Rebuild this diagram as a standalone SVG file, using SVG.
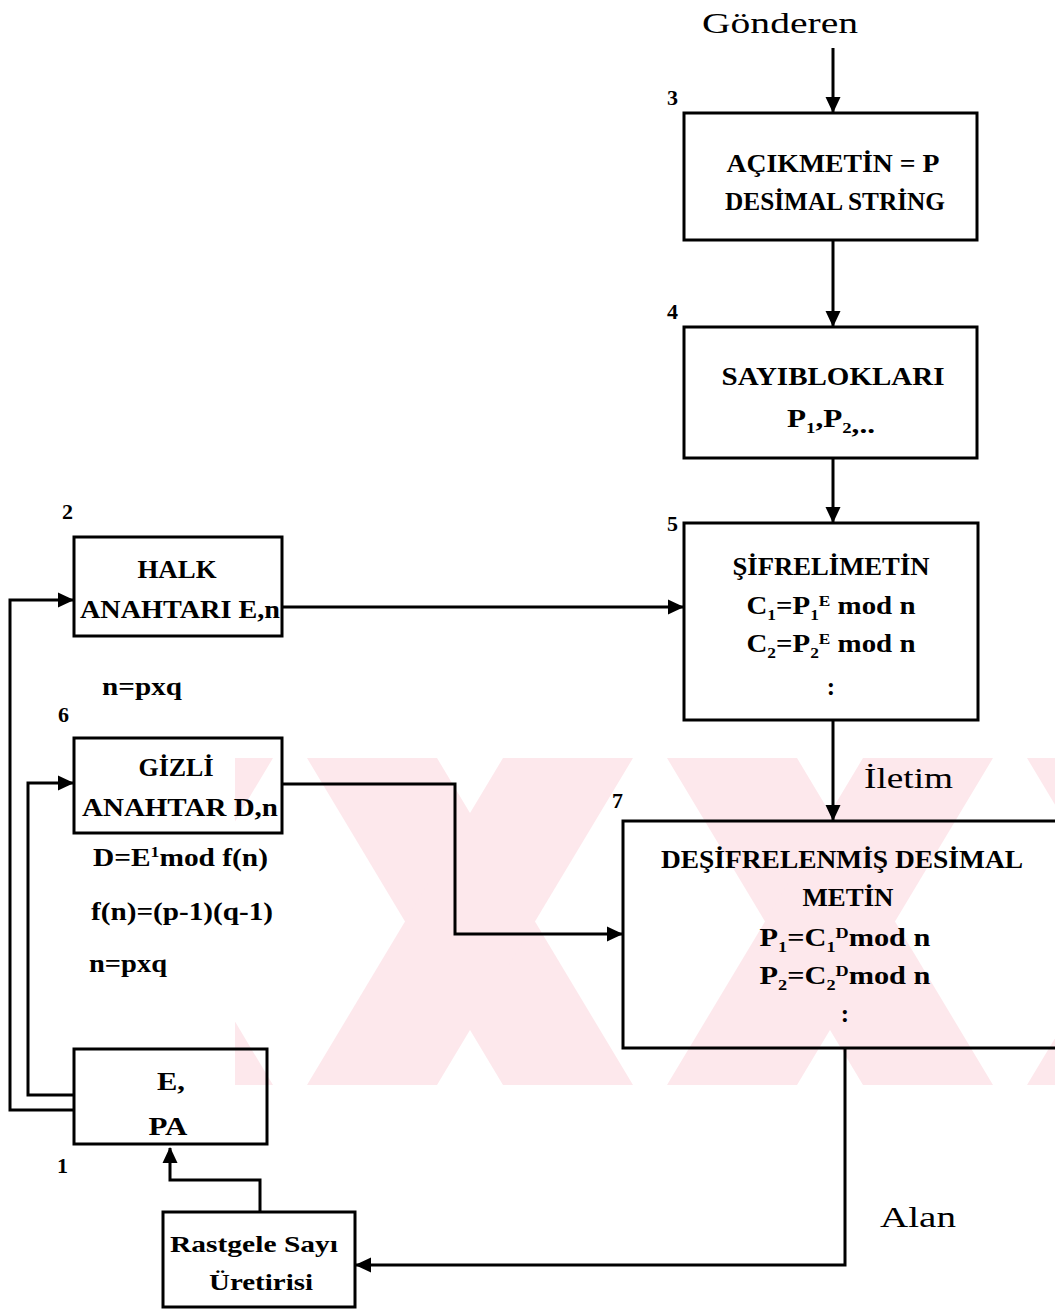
<svg xmlns="http://www.w3.org/2000/svg" width="1055" height="1310" viewBox="0 0 1055 1310">
<style>
text{font-family:"Liberation Serif","DejaVu Serif",serif;fill:#000}
.b{font-weight:bold;font-size:25px}
.r{font-weight:bold;font-size:23px}
.l{font-size:30px}
.num{font-weight:bold;font-size:22px}
.box{fill:none;stroke:#000;stroke-width:3}
.c{fill:none;stroke:#000;stroke-width:3}
.wm{fill:#fde8ec}
</style>
<defs>
<marker id="ah" markerUnits="userSpaceOnUse" markerWidth="17" markerHeight="17" refX="15" refY="8.5" orient="auto"><path d="M0,1 L16,8.5 L0,16 z" fill="#000"/></marker>
<clipPath id="wmclip"><rect x="235" y="758" width="820" height="327"/></clipPath>
</defs>
<rect x="0" y="0" width="1055" height="1310" fill="#fff"/>
<g id="watermark" clip-path="url(#wmclip)">
<polygon class="wm" points="-53,758 77,758 273,1085 143,1085"/>
<polygon class="wm" points="143,758 273,758 77,1085 -53,1085"/>
<polygon class="wm" points="307,758 437,758 633,1085 503,1085"/>
<polygon class="wm" points="503,758 633,758 437,1085 307,1085"/>
<polygon class="wm" points="667,758 797,758 993,1085 863,1085"/>
<polygon class="wm" points="863,758 993,758 797,1085 667,1085"/>
<polygon class="wm" points="1027,758 1157,758 1353,1085 1223,1085"/>
<polygon class="wm" points="1223,758 1353,758 1157,1085 1027,1085"/>
</g>
<g id="connectors">
<path class="c" d="M833,48 V112" marker-end="url(#ah)"/>
<path class="c" d="M833,240 V326" marker-end="url(#ah)"/>
<path class="c" d="M833,458 V522" marker-end="url(#ah)"/>
<path class="c" d="M282,607 H683" marker-end="url(#ah)"/>
<path class="c" d="M833,720 V820" marker-end="url(#ah)"/>
<path class="c" d="M282,784 H455 V934 H622" marker-end="url(#ah)"/>
<path class="c" d="M74,1110 H10 V600 H73" marker-end="url(#ah)"/>
<path class="c" d="M74,1095 H28 V783 H73" marker-end="url(#ah)"/>
<path class="c" d="M260,1212 V1180 H170 V1148" marker-end="url(#ah)"/>
<path class="c" d="M845,1048 V1265 H356" marker-end="url(#ah)"/>
</g>
<g id="labels">
<text class="l" x="780" y="33" text-anchor="middle" textLength="156" lengthAdjust="spacingAndGlyphs">Gönderen</text>
<text class="l" x="864" y="788" textLength="89" lengthAdjust="spacingAndGlyphs">İletim</text>
<text class="l" x="880" y="1227" textLength="76" lengthAdjust="spacingAndGlyphs">Alan</text>
</g>
<g id="node3">
<rect class="box" x="684" y="113" width="293" height="127"/>
<text class="num" x="667" y="105">3</text>
<text class="b" x="833" y="172" text-anchor="middle" textLength="213" lengthAdjust="spacingAndGlyphs">AÇIKMETİN = P</text>
<text class="b" x="835" y="210" text-anchor="middle" textLength="220" lengthAdjust="spacingAndGlyphs">DESİMAL STRİNG</text>
</g>
<g id="node4">
<rect class="box" x="684" y="327" width="293" height="131"/>
<text class="num" x="667" y="319">4</text>
<text class="b" x="833" y="385" text-anchor="middle" textLength="223" lengthAdjust="spacingAndGlyphs">SAYIBLOKLARI</text>
<text class="b" x="831" y="427" text-anchor="middle" textLength="88" lengthAdjust="spacingAndGlyphs">P<tspan dy="6" font-size="15">1</tspan><tspan dy="-6">,P</tspan><tspan dy="6" font-size="15">2</tspan><tspan>,..</tspan></text>
</g>
<g id="node5">
<rect class="box" x="684" y="523" width="294" height="197"/>
<text class="num" x="667" y="531">5</text>
<text class="b" x="831" y="575" text-anchor="middle" textLength="197" lengthAdjust="spacingAndGlyphs">ŞİFRELİMETİN</text>
<text class="b" x="831" y="614" text-anchor="middle" textLength="169" lengthAdjust="spacingAndGlyphs">C<tspan dy="6" font-size="15">1</tspan><tspan dy="-6">=P</tspan><tspan dy="6" font-size="15">1</tspan><tspan dy="-14" font-size="15">E</tspan><tspan dy="8"> mod n</tspan></text>
<text class="b" x="831" y="652" text-anchor="middle" textLength="169" lengthAdjust="spacingAndGlyphs">C<tspan dy="6" font-size="15">2</tspan><tspan dy="-6">=P</tspan><tspan dy="6" font-size="15">2</tspan><tspan dy="-14" font-size="15">E</tspan><tspan dy="8"> mod n</tspan></text>
<text class="b" x="831" y="695" text-anchor="middle">:</text>
</g>
<g id="node2">
<rect class="box" x="74" y="537" width="208" height="99"/>
<text class="num" x="62" y="519">2</text>
<text class="b" x="177" y="578" text-anchor="middle" textLength="79" lengthAdjust="spacingAndGlyphs">HALK</text>
<text class="b" x="180" y="618" text-anchor="middle" textLength="200" lengthAdjust="spacingAndGlyphs">ANAHTARI E,n</text>
</g>
<g id="formula1">
<text class="b" x="102" y="695" textLength="80" lengthAdjust="spacingAndGlyphs">n=pxq</text>
</g>
<g id="node6">
<rect class="box" x="74" y="738" width="208" height="95"/>
<text class="num" x="58" y="722">6</text>
<text class="b" x="176" y="776" text-anchor="middle" textLength="75" lengthAdjust="spacingAndGlyphs">GİZLİ</text>
<text class="b" x="180" y="816" text-anchor="middle" textLength="196" lengthAdjust="spacingAndGlyphs">ANAHTAR D,n</text>
</g>
<g id="formulas">
<text class="b" x="93" y="866" textLength="175" lengthAdjust="spacingAndGlyphs">D=E<tspan dy="-9" font-size="15">1</tspan><tspan dy="9">mod f(n)</tspan></text>
<text class="b" x="91" y="920" textLength="182" lengthAdjust="spacingAndGlyphs">f(n)=(p-1)(q-1)</text>
<text class="b" x="89" y="972" textLength="78" lengthAdjust="spacingAndGlyphs">n=pxq</text>
</g>
<g id="node7">
<rect class="box" x="623" y="821" width="445" height="227"/>
<text class="num" x="612" y="808">7</text>
<text class="b" x="842" y="868" text-anchor="middle" textLength="362" lengthAdjust="spacingAndGlyphs">DEŞİFRELENMİŞ DESİMAL</text>
<text class="b" x="848" y="906" text-anchor="middle" textLength="91" lengthAdjust="spacingAndGlyphs">METİN</text>
<text class="b" x="845" y="946" text-anchor="middle" textLength="171" lengthAdjust="spacingAndGlyphs">P<tspan dy="6" font-size="15">1</tspan><tspan dy="-6">=C</tspan><tspan dy="6" font-size="15">1</tspan><tspan dy="-14" font-size="15">D</tspan><tspan dy="8">mod n</tspan></text>
<text class="b" x="845" y="984" text-anchor="middle" textLength="171" lengthAdjust="spacingAndGlyphs">P<tspan dy="6" font-size="15">2</tspan><tspan dy="-6">=C</tspan><tspan dy="6" font-size="15">2</tspan><tspan dy="-14" font-size="15">D</tspan><tspan dy="8">mod n</tspan></text>
<text class="b" x="845" y="1022" text-anchor="middle">:</text>
</g>
<g id="node1">
<rect class="box" x="74" y="1049" width="193" height="95"/>
<text class="num" x="57" y="1173">1</text>
<text class="b" x="171" y="1090" text-anchor="middle" textLength="28" lengthAdjust="spacingAndGlyphs">E,</text>
<text class="b" x="168" y="1135" text-anchor="middle" textLength="39" lengthAdjust="spacingAndGlyphs">PA</text>
</g>
<g id="nodeRNG">
<rect class="box" x="163" y="1212" width="192" height="95"/>
<text class="r" x="254" y="1252" text-anchor="middle" textLength="168" lengthAdjust="spacingAndGlyphs">Rastgele Sayı</text>
<text class="r" x="261" y="1290" text-anchor="middle" textLength="104" lengthAdjust="spacingAndGlyphs">Üretirisi</text>
</g>
</svg>
